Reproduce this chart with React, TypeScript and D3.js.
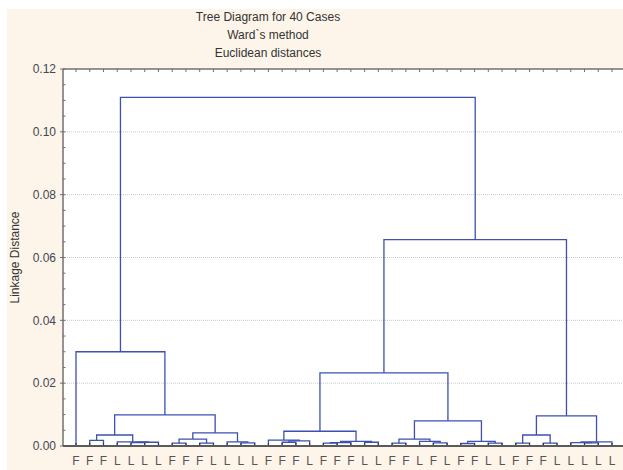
import React from "react";
import * as d3 from "d3";

const titleLines = ["Tree Diagram for 40 Cases", "Ward`s method", "Euclidean distances"];
const yAxisTitle = "Linkage Distance";

const leafLabels = [
  "F", "F", "F", "L", "L", "L", "L",
  "F", "F", "F", "L", "L", "L", "L",
  "F", "F", "F", "L", "F", "F", "F", "L", "L",
  "F", "F", "L", "F", "L", "F", "F", "L", "L",
  "F", "F", "F", "L", "L", "L", "L", "L",
];

// merges: [left node, right node, linkage distance]; leaves are 0..39, merge k creates node 40+k
const merges: [number, number, number][] = [
  [1, 2, 0.0018],
  [4, 5, 0.0011],
  [41, 6, 0.0012],
  [3, 42, 0.0013],
  [40, 43, 0.0035],
  [7, 8, 0.0009],
  [9, 10, 0.0009],
  [45, 46, 0.0022],
  [12, 13, 0.001],
  [11, 48, 0.0013],
  [47, 49, 0.0042],
  [44, 50, 0.0099],
  [0, 51, 0.03],
  [15, 16, 0.0012],
  [53, 17, 0.0016],
  [14, 54, 0.0019],
  [18, 19, 0.0009],
  [56, 20, 0.0011],
  [21, 22, 0.0012],
  [57, 58, 0.0015],
  [55, 59, 0.0047],
  [23, 24, 0.0009],
  [26, 27, 0.001],
  [25, 62, 0.0015],
  [61, 63, 0.0022],
  [28, 29, 0.0008],
  [30, 31, 0.0009],
  [65, 66, 0.0015],
  [64, 67, 0.008],
  [60, 68, 0.0233],
  [32, 33, 0.0009],
  [34, 35, 0.0009],
  [70, 71, 0.0035],
  [37, 38, 0.001],
  [36, 73, 0.0011],
  [74, 39, 0.0013],
  [72, 75, 0.0096],
  [69, 76, 0.0657],
  [52, 77, 0.111],
];

const yMajorTicks = [0, 0.02, 0.04, 0.06, 0.08, 0.1, 0.12];
const yMinorStep = 0.005;

const W = 623;
const H = 470;
const plotLeft = 63;
const plotRight = 623;
const plotTop = 69;
const plotBottom = 446;
const font = "Arial, 'Liberation Sans', sans-serif";
const lineColor = "#3d50b0";
const axisColor = "#707070";

export default function App() {
  const n = leafLabels.length;
  const x = d3.scaleLinear().domain([0, n - 1]).range([76, 612]);
  const y = d3.scaleLinear().domain([0, 0.12]).range([plotBottom, plotTop]);

  // compute node positions
  const nodeX: number[] = [];
  const nodeH: number[] = [];
  for (let i = 0; i < n; i++) {
    nodeX[i] = x(i);
    nodeH[i] = 0;
  }
  merges.forEach(([a, b, h], k) => {
    nodeX[n + k] = (nodeX[a] + nodeX[b]) / 2;
    nodeH[n + k] = h;
  });

  const linkPaths = merges.map(([a, b, h]) => {
    const p = d3.path();
    p.moveTo(nodeX[a], y(nodeH[a]));
    p.lineTo(nodeX[a], y(h));
    p.lineTo(nodeX[b], y(h));
    p.lineTo(nodeX[b], y(nodeH[b]));
    return p.toString();
  });

  const minorTicks = d3.range(0, 0.12 + 1e-9, yMinorStep);

  return (
    <svg
      width={W}
      height={H}
      style={{ position: "absolute", left: 0, top: 0 }}
      fontFamily={font}
    >
      <rect x={0} y={0} width={W} height={H} fill="#ffffff" />
      <rect x={7} y={9} width={W - 7} height={H - 9} fill="#fdf5ea" />
      <rect
        x={plotLeft}
        y={plotTop}
        width={plotRight - plotLeft}
        height={plotBottom - plotTop}
        fill="#ffffff"
      />
      {titleLines.map((t, i) => (
        <text
          key={t}
          x={268}
          y={21 + i * 18}
          textAnchor="middle"
          fontSize={12}
          fill="#333"
        >
          {t}
        </text>
      ))}
      {/* grid */}
      {yMajorTicks
        .filter((v) => v > 0 && v < 0.12)
        .map((v) => (
          <line
            key={"g" + v}
            x1={plotLeft}
            x2={plotRight}
            y1={y(v)}
            y2={y(v)}
            stroke="#c8c8c8"
            strokeWidth={1}
            strokeDasharray="1,1"
          />
        ))}
      {/* dendrogram */}
      {linkPaths.map((d, i) => (
        <path key={"l" + i} d={d} fill="none" stroke={lineColor} strokeWidth={1.3} />
      ))}
      {/* top axis */}
      <line x1={plotLeft} x2={plotRight} y1={plotTop} y2={plotTop} stroke={axisColor} strokeWidth={1.5} />
      {leafLabels.map((_, i) => (
        <line
          key={"tt" + i}
          x1={x(i)}
          x2={x(i)}
          y1={plotTop}
          y2={plotTop + 3}
          stroke={axisColor}
          strokeWidth={1}
        />
      ))}
      {/* left axis */}
      <line x1={plotLeft} x2={plotLeft} y1={plotTop} y2={plotBottom} stroke={axisColor} strokeWidth={1.5} />
      {minorTicks.map((v, i) => (
        <line
          key={"mt" + i}
          x1={plotLeft}
          x2={plotLeft + 2.5}
          y1={y(v)}
          y2={y(v)}
          stroke={axisColor}
          strokeWidth={1}
        />
      ))}
      {yMajorTicks.map((v) => (
        <g key={"yt" + v}>
          <line x1={plotLeft - 3} x2={plotLeft} y1={y(v)} y2={y(v)} stroke={axisColor} strokeWidth={1} />
          <text
            x={56}
            y={y(v)}
            dy="0.35em"
            textAnchor="end"
            fontSize={12}
            fill="#444650"
          >
            {d3.format(".2f")(v)}
          </text>
        </g>
      ))}
      {/* bottom axis */}
      {leafLabels.map((_, i) => (
        <line
          key={"bt" + i}
          x1={x(i)}
          x2={x(i)}
          y1={plotBottom}
          y2={plotBottom - 3}
          stroke="#333"
          strokeWidth={1}
        />
      ))}
      <line x1={plotLeft} x2={plotRight} y1={plotBottom} y2={plotBottom} stroke="#5a5a5a" strokeWidth={2} />
      {leafLabels.map((l, i) => (
        <text
          key={"xl" + i}
          x={x(i)}
          y={465}
          textAnchor="middle"
          fontSize={12}
          fill="#555"
        >
          {l}
        </text>
      ))}
      <text
        transform={`translate(19, ${(plotTop + plotBottom) / 2}) rotate(-90)`}
        textAnchor="middle"
        fontSize={12}
        fill="#333"
      >
        {yAxisTitle}
      </text>
    </svg>
  );
}
